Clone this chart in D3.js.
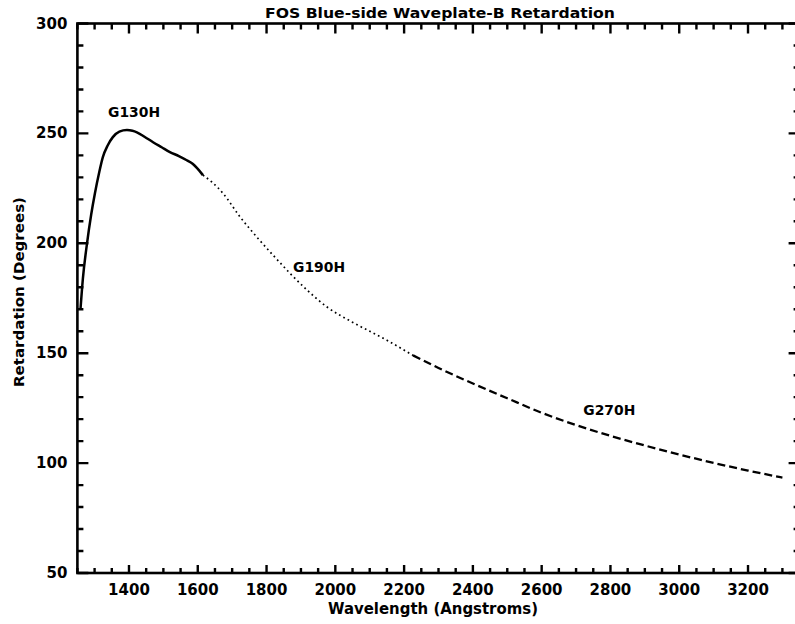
<!DOCTYPE html>
<html>
<head>
<meta charset="utf-8">
<script src="https://cdn.jsdelivr.net/npm/d3@7"></script>
<style>
  html, body { margin: 0; padding: 0; background: #fff; }
  svg { display: block; }
  text { font-family: "DejaVu Sans", sans-serif; font-weight: bold; fill: #000; }
</style>
</head>
<body>
<svg id="chart" width="795" height="624"></svg>
<script>
// Retardation (degrees) vs. wavelength (Angstroms), one segment per grating
const g130hWave = [1259, 1266, 1278, 1290, 1301, 1313, 1324, 1338, 1353, 1372, 1394, 1410, 1423, 1445, 1470, 1495, 1519, 1545, 1568, 1585, 1598, 1615];
const g130hRet  = [170, 184, 200, 213, 222.8, 232, 239.2, 244.5, 248.3, 250.8, 251.5, 251.2, 250.5, 248.5, 246, 243.7, 241.5, 239.7, 237.8, 236.2, 234.2, 231];

const g190hWave = [1615, 1640, 1673, 1723, 1772, 1819, 1868, 1918, 1976, 2051, 2150, 2226];
const g190hRet  = [231, 228, 222.8, 212, 202.8, 194.6, 186.4, 178.7, 171, 164, 155.9, 149];

const g270hWave = [2226, 2300, 2400, 2500, 2600, 2700, 2800, 2900, 3000, 3100, 3200, 3300];
const g270hRet  = [149, 143.3, 136.2, 129.5, 122.9, 117.3, 112.4, 108, 103.9, 100.1, 96.6, 93.4];

const gratingNames = ["G130H", "G190H", "G270H"];
const labelWave = [1339, 1877, 2721];
const labelRet  = [257.5, 187, 122];

const xTickValues = [1400, 1600, 1800, 2000, 2200, 2400, 2600, 2800, 3000, 3200];
const yTickValues = [50, 100, 150, 200, 250, 300];

const titleText = "FOS Blue-side Waveplate-B Retardation";
const xTitle = "Wavelength (Angstroms)";
const yTitle = "Retardation (Degrees)";

const svg = d3.select("#chart");

const x = d3.scaleLinear().domain([1250, 3350]).range([77.4, 799.6]);
const y = d3.scaleLinear().domain([50, 300]).range([573, 23.5]);

const xMinor = d3.range(1250, 3351, 50).filter(v => v % 200 !== 0);
const yMinor = d3.range(50, 301, 10).filter(v => v % 50 !== 0);

const left = x(1250), right = x(3350), bottom = y(50), topY = y(300);

// frame
svg.append("rect")
  .attr("x", left).attr("y", topY)
  .attr("width", right - left).attr("height", bottom - topY)
  .attr("fill", "none").attr("stroke", "#000").attr("stroke-width", 2.6);

// inward ticks on all four sides, built as one path
const tp = d3.path();
function xTicks(vals, lenBottom, lenTop) {
  vals.forEach(v => {
    const px = x(v);
    tp.moveTo(px, bottom); tp.lineTo(px, bottom - lenBottom);
    tp.moveTo(px, topY); tp.lineTo(px, topY + lenTop);
  });
}
function yTicks(vals, len) {
  vals.forEach(v => {
    const py = y(v);
    tp.moveTo(left, py); tp.lineTo(left + len, py);
    tp.moveTo(right, py); tp.lineTo(right - len, py);
  });
}
xTicks(xTickValues, 8, 10);
xTicks(xMinor, 5, 6);
yTicks(yTickValues, 11);
yTicks(yMinor, 6);
svg.append("path").attr("d", tp.toString())
  .attr("fill", "none").attr("stroke", "#000").attr("stroke-width", 2.4);

// tick labels
svg.append("g").selectAll("text").data(xTickValues).join("text")
  .attr("x", d => x(d)).attr("y", bottom + 22).attr("text-anchor", "middle")
  .attr("font-size", 15).text(d => d3.format("d")(d));
svg.append("g").selectAll("text").data(yTickValues).join("text")
  .attr("x", left - 10).attr("y", d => y(d) + 5).attr("text-anchor", "end")
  .attr("font-size", 15).text(d => d3.format("d")(d));

// curves
const line = d3.line().x(d => x(d[0])).y(d => y(d[1])).curve(d3.curveMonotoneX);
const zip = (a, b) => a.map((v, i) => [v, b[i]]);

svg.append("path").datum(zip(g130hWave, g130hRet))
  .attr("d", line).attr("fill", "none").attr("stroke", "#000").attr("stroke-width", 2.5);
svg.append("path").datum(zip(g190hWave, g190hRet))
  .attr("d", line).attr("fill", "none").attr("stroke", "#000").attr("stroke-width", 1.7)
  .attr("stroke-dasharray", "1.7,3.2");
svg.append("path").datum(zip(g270hWave, g270hRet))
  .attr("d", line).attr("fill", "none").attr("stroke", "#000").attr("stroke-width", 2.3)
  .attr("stroke-dasharray", "8,4");

// grating labels
svg.append("g").selectAll("text").data(gratingNames).join("text")
  .attr("x", (d, i) => x(labelWave[i]))
  .attr("y", (d, i) => y(labelRet[i]))
  .attr("font-size", 14).attr("textLength", 52).attr("lengthAdjust", "spacingAndGlyphs")
  .text(d => d);

// titles
svg.append("text").attr("x", 440).attr("y", 18).attr("text-anchor", "middle")
  .attr("font-size", 14).attr("textLength", 350).attr("lengthAdjust", "spacingAndGlyphs")
  .text(titleText);
svg.append("text").attr("x", 433).attr("y", 614).attr("text-anchor", "middle")
  .attr("font-family", "DejaVu Serif").attr("font-size", 15)
  .attr("textLength", 210).attr("lengthAdjust", "spacingAndGlyphs")
  .text(xTitle);
svg.append("text").attr("transform", "translate(24,292) rotate(-90)").attr("text-anchor", "middle")
  .attr("font-family", "DejaVu Serif").attr("font-size", 13.5)
  .attr("textLength", 190).attr("lengthAdjust", "spacingAndGlyphs")
  .text(yTitle);
</script>
</body>
</html>
